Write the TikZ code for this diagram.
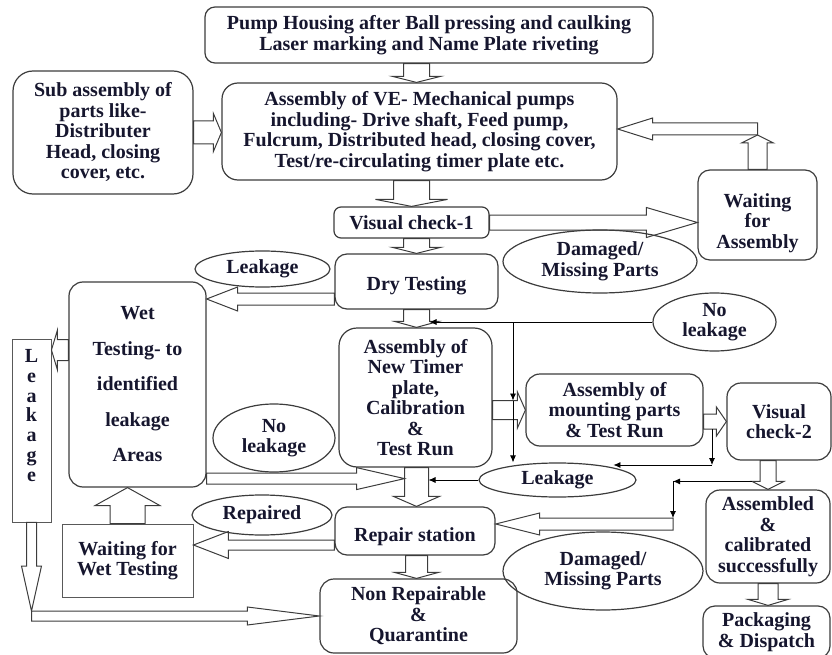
\documentclass[tikz,border=0pt]{standalone}
\usepackage{fontspec}
\setmainfont{Liberation Serif}
\usetikzlibrary{calc,arrows.meta,shapes.geometric}

\definecolor{ink}{RGB}{22,22,46}
\definecolor{edge}{RGB}{60,60,60}

\tikzset{
  box/.style = {draw = edge, line width = 1.2pt, rounded corners = 12pt, inner sep = 2pt, align = center},
  sqbox/.style = {draw = edge!85, line width = 0.9pt, inner sep = 2pt, align = center},
  oval/.style = {draw = edge, line width = 1.2pt, ellipse, inner sep = 0pt, align = center},
  txt/.style = {inner sep = 0pt, align = center},
  link/.style = {draw = black, line width = 0.8pt, -{Latex[length = 7pt, width = 6pt]}},
  hollow/.style n args = {3}{draw = edge, line width = 1pt,
    to path = {let \p1 = (\tikztostart), \p2 = (\tikztotarget),
      \n1 = {atan2(\y2-\y1,\x2-\x1)}, \n2 = {veclen(\x2-\x1,\y2-\y1)-#3} in
      ($(\p1)+(\n1+90:#1pt)$) -- ($(\p1)+(\n1:\n2)+(\n1+90:#1pt)$)
      -- ($(\p1)+(\n1:\n2)+(\n1+90:#2pt)$) -- (\p2)
      -- ($(\p1)+(\n1:\n2)+(\n1-90:#2pt)$) -- ($(\p1)+(\n1:\n2)+(\n1-90:#1pt)$)
      -- ($(\p1)+(\n1-90:#1pt)$) -- cycle}}
}

\begin{document}
\begin{tikzpicture}[x = 1pt, y = -1pt, text = ink, font = \bfseries\fontsize{20}{20.5}\selectfont]
\useasboundingbox (0,0) rectangle (832,655);

\node [box, minimum width = 448, minimum height = 56, rounded corners = 10pt] (top) at (429,35) {Pump Housing after Ball pressing and caulking\\Laser marking and Name Plate riveting};
\node [box, minimum width = 395, minimum height = 97, rounded corners = 16pt] (asm) at (419.5,131.5) {Assembly of VE- Mechanical pumps\\including- Drive shaft, Feed pump,\\Fulcrum, Distributed head, closing cover,\\Test/re-circulating timer plate etc.};
\node [box, minimum width = 180, minimum height = 123, rounded corners = 20pt] (sub) at (103,132.5) {Sub assembly of\\parts like-\\Distributer\\Head, closing\\cover, etc.};
\node [box, minimum width = 119, minimum height = 90] (waitA) at (757.5,215) {};
\node [txt] (waitAtxt) at (757.5,223) {Waiting\\for\\Assembly};
\node [box, minimum width = 155, minimum height = 31, rounded corners = 7pt] (vc1) at (411.5,222.5) {Visual check-1};
\node [oval, minimum width = 194, minimum height = 63] (dmgA) at (600,261.5) {Damaged/\\Missing Parts};
\node [box, minimum width = 163, minimum height = 55] (dry) at (416.5,281.5) {};
\node [txt] (drytxt) at (416.5,285.5) {Dry Testing};
\node [oval, minimum width = 135, minimum height = 36] (leakA) at (262.5,269) {Leakage};
\node [box, minimum width = 137, minimum height = 205, rounded corners = 14pt, font = \bfseries\fontsize{20}{35.5}\selectfont] (wet) at (137.5,384.5) {Wet\\Testing- to\\identified\\leakage\\Areas};
\node [sqbox, minimum width = 39, minimum height = 183] (leakbox) at (31.5,430.5) {};
\node [txt, font = \bfseries\fontsize{20}{19.8}\selectfont] (leaktxt) at (31.5,415.5) {L\\e\\a\\k\\a\\g\\e};
\node [oval, minimum width = 122, minimum height = 68] (noleakA) at (274,438) {No\\leakage};
\node [oval, minimum width = 123, minimum height = 58] (noleakB) at (714.5,322) {No\\leakage};
\node [box, minimum width = 153, minimum height = 139, rounded corners = 18pt] (timer) at (415.5,397.5) {Assembly of\\New Timer\\plate,\\Calibration\\\&\\Test Run};
\node [box, minimum width = 177, minimum height = 72, rounded corners = 14pt] (mount) at (614.5,410) {Assembly of\\mounting parts\\\& Test Run};
\node [box, minimum width = 104, minimum height = 77, rounded corners = 14pt] (vc2) at (779,421.5) {Visual\\check-2};
\node [oval, minimum width = 157, minimum height = 34] (leakB) at (557.5,480) {Leakage};
\node [box, minimum width = 160, minimum height = 48] (repair) at (415,531) {};
\node [txt] (repairtxt) at (415,537) {Repair station};
\node [oval, minimum width = 140, minimum height = 40] (fixed) at (262,515) {Repaired};
\node [sqbox, minimum width = 131, minimum height = 73] (waitW) at (127.5,560.5) {Waiting for\\Wet Testing};
\node [box, minimum width = 197, minimum height = 74, rounded corners = 14pt] (nonrep) at (418.5,616) {Non Repairable\\\&\\Quarantine};
\node [oval, minimum width = 200, minimum height = 78] (dmgB) at (603,571) {Damaged/\\Missing Parts};
\node [box, minimum width = 124, minimum height = 93, rounded corners = 14pt] (asmok) at (768,536.5) {Assembled\\\&\\calibrated\\successfully};
\node [box, minimum width = 127, minimum height = 52] (pack) at (766.5,632) {Packaging\\\& Dispatch};

\coordinate (turn) at (757.5,129);
\coordinate (dryout) at ([yshift=-17.5pt]dry.west);
\coordinate (wetout) at ([yshift=34.5pt]wet.west);
\coordinate (wetlow) at ([yshift=9pt]wet.south east);
\coordinate (colL) at (wetlow -| dry.south);
\coordinate (lcorner) at (leakbox.south |- nonrep.west);
\coordinate (repin) at ([yshift=7pt]repair.east);
\coordinate (repout) at ([yshift=-14pt]repair.west);
\coordinate (j1) at (513,322);
\coordinate (j2) at (712,465);
\coordinate (j3) at (673,481);
\coordinate (repsrc) at (j3 |- repin);
\coordinate (mtop) at ([yshift=9.5pt]mount.west);
\coordinate (mbot) at ([yshift=-7.5pt]vc2.west);
\coordinate (hd) at ([xshift=-16pt,yshift=8pt]asmok.north);
\coordinate (colR) at (noleakB.west -| dry.south);
\coordinate (colM) at (leakB.west -| dry.south);

% block arrows
\draw [hollow = {13}{24}{6}] (top.south -| dry.north) to (asm.north -| dry.north);
\draw [hollow = {18}{36}{7}] (asm.south -| vc1.north) to (vc1.north);
\draw [hollow = {13}{24}{6}] (vc1.south -| dry.north) to (dry.north);
\draw [hollow = {13}{22}{6}] (dry.south) to (dry.south |- timer.north);
\draw [hollow = {12}{23}{10}] (timer.south -| dry.south) to (repair.north -| dry.south);
\draw [hollow = {11}{22}{6}] (repair.south -| dry.south) to (nonrep.north -| dry.south);
\draw [hollow = {11.5}{19}{8}] (sub.east) to (sub.east -| asm.west);
\draw [hollow = {7.5}{15}{51}] (vc1.east) to (vc1.east -| waitA.west);
\draw [hollow = {9.5}{16}{8}] (waitA.north) to ([yshift=-6pt]turn);
\draw [hollow = {6}{11}{35}] (turn) to (turn -| asm.east);
\draw [hollow = {6}{12}{31}] (dryout) to (dryout -| wet.east);
\draw [hollow = {10.5}{20}{6}] (wetout) to (wetout -| leakbox.east);
\draw [hollow = {5}{10}{45}] (leakbox.south) to ([yshift=5pt]lcorner);
\draw [hollow = {5}{9}{72}] (lcorner) to (lcorner -| nonrep.west);
\draw [hollow = {5.5}{11}{48}] (wetlow) to ([xshift=-12pt]colL);
\draw [hollow = {9.5}{18}{8}] (timer.east |- mount.west) to (mount.west);
\draw [hollow = {7.5}{14.5}{10}] (vc2.west -| mount.east) to (vc2.west);
\draw [hollow = {6}{11}{44}] (repsrc) to (repin);
\draw [hollow = {5}{13.5}{35}] (repout) to (repout -| waitW.east);
\draw [hollow = {17.5}{32.5}{18}] (waitW.north) to (waitW.north |- wet.south);
\draw [hollow = {8}{16}{8}] (vc2.south -| asmok.north) to (asmok.north);
\draw [hollow = {10}{20}{6}] (asmok.south) to (asmok.south |- pack.north);

% thin arrows
\draw [link] (noleakB.west) -- ([xshift=13pt]colR);
\draw [link] (j1) -- (j1 |- mtop);
\draw [link] (j1 |- mtop) -- (j1 |- leakB.north);
\draw [link] (j2 |- mbot) -- (j2);
\draw [link] (j2) -- (j2 -| leakB.north east);
\draw [link] (leakB.west) -- ([xshift=12pt]colM);
\draw [link] (hd) -- (hd -| j3);
\draw [link] (hd -| j3) -- ([yshift=6pt]repsrc);
\end{tikzpicture}
\end{document}
